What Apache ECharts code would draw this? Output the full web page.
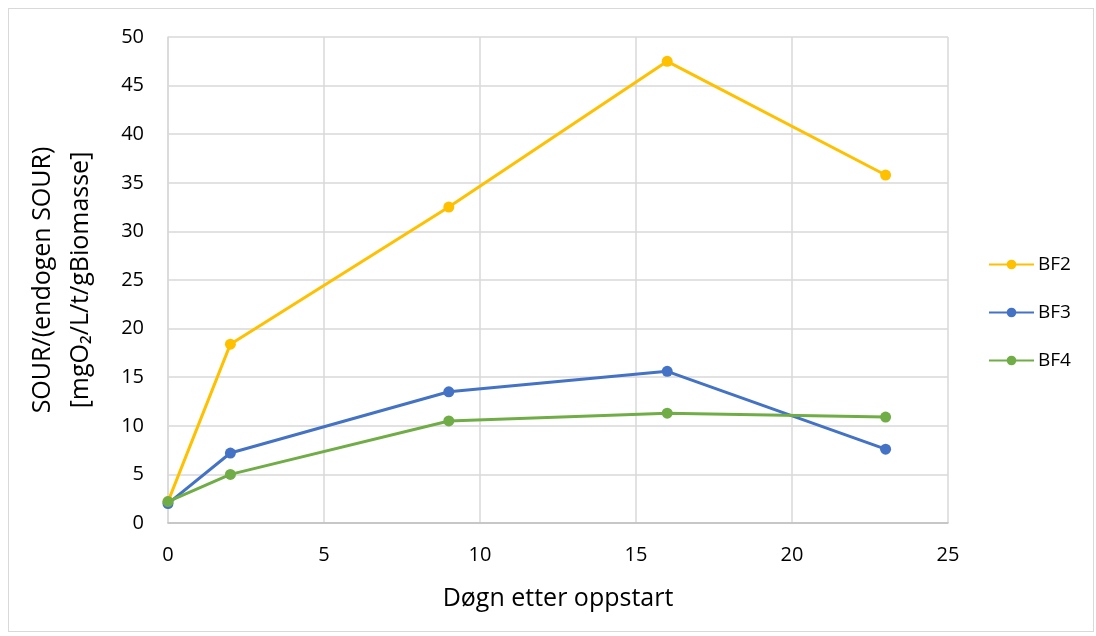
<!DOCTYPE html>
<html>
<head>
<meta charset="utf-8">
<script src="https://cdn.jsdelivr.net/npm/echarts@6/dist/echarts.min.js"></script>
<style>
  html, body { margin: 0; padding: 0; background: #fff; }
  .frame { position: absolute; left: 8px; top: 8px; width: 1086px; height: 624px; border: 1px solid #d9d9d9; box-sizing: border-box; }
  #chart { position: absolute; left: 0; top: 0; width: 1096px; height: 636px; }
</style>
</head>
<body>
<div class="frame"></div>
<div id="chart"></div>
<script>
// data
const days = [0, 2, 9, 16, 23];
const bf2 = [2.2, 18.4, 32.5, 47.5, 35.8];
const bf3 = [2.0, 7.2, 13.5, 15.6, 7.6];
const bf4 = [2.2, 5.0, 10.5, 11.3, 10.9];
const seriesNames = ['BF2', 'BF3', 'BF4'];
const colors = ['#FFC000', '#4472C4', '#70AD47'];

const font = '"Open Sans", "Noto Sans", sans-serif';
const chart = echarts.init(document.getElementById('chart'));

function toPoints(vals) {
  return days.map((d, i) => [d, vals[i]]);
}

const allVals = [bf2, bf3, bf4];
const option = {
  animation: false,
  color: colors,
  textStyle: { fontFamily: font },
  grid: { left: 168, right: 148, top: 37, bottom: 113 },
  legend: {
    orient: 'vertical',
    left: 983,
    top: 250,
    itemGap: 29,
    itemWidth: 45,
    itemHeight: 12,
    textStyle: { fontSize: 19, color: '#000', fontFamily: font, padding: [0, 0, 0, -1] },
    data: seriesNames
  },
  xAxis: {
    type: 'value',
    min: 0, max: 25, interval: 5,
    name: 'Døgn etter oppstart',
    nameLocation: 'middle',
    nameGap: 63,
    nameTextStyle: { fontSize: 25, color: '#000' },
    axisLine: { lineStyle: { color: '#bfbfbf', width: 1.5 } },
    axisTick: { show: false },
    axisLabel: { fontSize: 20, color: '#000', margin: 22 },
    splitLine: { lineStyle: { color: '#d9d9d9', width: 1.5 } }
  },
  yAxis: {
    type: 'value',
    min: 0, max: 50, interval: 5,
    name: 'SOUR/(endogen SOUR)\n[mgO₂/L/t/gBiomasse]',
    nameLocation: 'middle',
    nameGap: 68,
    nameTextStyle: { fontSize: 25, color: '#000', lineHeight: 38 },
    axisLine: { show: true, lineStyle: { color: '#d9d9d9', width: 1.5 } },
    axisTick: { show: false },
    axisLabel: { fontSize: 20, color: '#000', margin: 24 },
    splitLine: { lineStyle: { color: '#d9d9d9', width: 1.5 } }
  },
  series: seriesNames.map((name, i) => ({
    name: name,
    type: 'line',
    data: toPoints(allVals[i]),
    symbol: 'circle',
    symbolSize: 11,
    lineStyle: { width: 3 },
    z: 3 + i
  }))
};

chart.setOption(option);
</script>
</body>
</html>
